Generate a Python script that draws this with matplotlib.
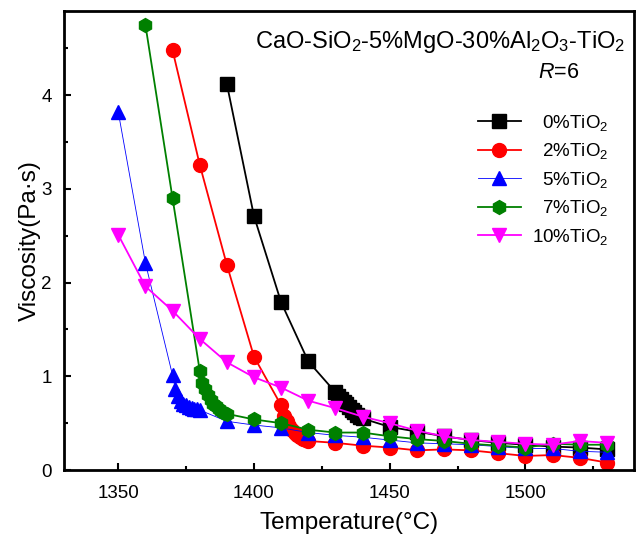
import numpy as np
import matplotlib.pyplot as plt
from matplotlib.ticker import MultipleLocator

plt.rcParams['font.family'] = ['Liberation Sans', 'DejaVu Sans']
plt.rcParams['mathtext.fontset'] = 'custom'
plt.rcParams['mathtext.rm'] = 'Liberation Sans'
plt.rcParams['mathtext.it'] = 'Liberation Sans:italic'

# 温度和粘度数据
t0 = [1390, 1400, 1410, 1420, 1430, 1431, 1432, 1433, 1434, 1435, 1436, 1437, 1438, 1439, 1440,
      1450, 1460, 1470, 1480, 1490, 1500, 1510, 1520, 1530]
v0 = [4.12, 2.71, 1.79, 1.16, 0.83, 0.79, 0.76, 0.73, 0.70, 0.67, 0.64, 0.62, 0.59, 0.57, 0.55,
      0.46, 0.41, 0.36, 0.32, 0.29, 0.27, 0.25, 0.24, 0.22]

t2 = [1370, 1380, 1390, 1400, 1410, 1411, 1412, 1413, 1414, 1415, 1416, 1417, 1418, 1419, 1420,
      1430, 1440, 1450, 1460, 1470, 1480, 1490, 1500, 1510, 1520, 1530]
v2 = [4.48, 3.26, 2.19, 1.21, 0.69, 0.58, 0.52, 0.47, 0.43, 0.40, 0.37, 0.35, 0.33, 0.32, 0.31,
      0.29, 0.26, 0.24, 0.21, 0.22, 0.21, 0.18, 0.15, 0.16, 0.13, 0.08]

t5 = [1350, 1360, 1370, 1371, 1372, 1373, 1374, 1375, 1376, 1377, 1378, 1379, 1380,
      1390, 1400, 1410, 1420, 1430, 1440, 1450, 1460, 1470, 1480, 1490, 1500, 1510, 1520, 1530]
v5 = [3.82, 2.21, 1.01, 0.87, 0.79, 0.74, 0.71, 0.69, 0.67, 0.66, 0.65, 0.65, 0.64,
      0.52, 0.48, 0.45, 0.40, 0.37, 0.35, 0.32, 0.29, 0.28, 0.27, 0.25, 0.23, 0.23, 0.20, 0.19]

t7 = [1360, 1370, 1380, 1381, 1382, 1383, 1384, 1385, 1386, 1387, 1388, 1389, 1390,
      1400, 1410, 1420, 1430, 1440, 1450, 1460, 1470, 1480, 1490, 1500, 1510, 1520, 1530]
v7 = [4.75, 2.90, 1.06, 0.93, 0.86, 0.80, 0.75, 0.71, 0.68, 0.65, 0.63, 0.61, 0.60,
      0.54, 0.50, 0.43, 0.40, 0.40, 0.36, 0.33, 0.31, 0.28, 0.26, 0.24, 0.28, 0.27, 0.27]

t10 = [1350, 1360, 1370, 1380, 1390, 1400, 1410, 1420, 1430, 1440, 1450, 1460, 1470, 1480,
       1490, 1500, 1510, 1520, 1530]
v10 = [2.51, 1.96, 1.70, 1.40, 1.15, 0.99, 0.88, 0.74, 0.66, 0.57, 0.50, 0.42, 0.36, 0.32,
       0.30, 0.28, 0.27, 0.31, 0.29]

# 图例文字右对齐，用数字空格补齐
labels = ['\u20070%TiO$_2$', '\u20072%TiO$_2$', '\u20075%TiO$_2$', '\u20077%TiO$_2$', '10%TiO$_2$']

fig = plt.figure(figsize=(6.42, 5.41), dpi=100)
ax = fig.add_axes([0.0997, 0.1312, 0.8878, 0.8485])

ax.plot(t0, v0, color='black', marker='s', ms=9.5, lw=1.3, label=labels[0])
ax.plot(t2, v2, color='red', marker='o', ms=10, lw=1.3, label=labels[1])
ax.plot(t5, v5, color='blue', marker='^', ms=10.5, lw=0.6, label=labels[2])
ax.plot(t7, v7, color='green', marker='h', ms=10, lw=1.3, label=labels[3])
ax.plot(t10, v10, color='magenta', marker='v', ms=10.5, lw=1.3, label=labels[4])

ax.set_xlim(1330, 1540)
ax.set_ylim(0, 4.9)
ax.xaxis.set_major_locator(MultipleLocator(50))
ax.xaxis.set_minor_locator(MultipleLocator(25))
ax.yaxis.set_major_locator(MultipleLocator(1))
ax.yaxis.set_minor_locator(MultipleLocator(0.5))
ax.tick_params(which='both', direction='in', width=1.5, labelsize=13.5)
ax.tick_params(which='major', length=5)
ax.tick_params(which='minor', length=3)
ax.tick_params(axis='x', which='major', pad=11)
ax.tick_params(axis='y', which='major', pad=9)
for s in ax.spines.values():
    s.set_linewidth(2)

ax.set_xlabel('Temperature(°C)', fontsize=17.5, labelpad=7)
ax.set_ylabel('Viscosity(Pa·s)', fontsize=17.5, labelpad=0)

ax.text(0.984, 0.932, 'CaO-SiO$_2$-5%MgO-30%Al$_2$O$_3$-TiO$_2$', transform=ax.transAxes,
        ha='right', va='center', fontsize=17)
ax.text(0.868, 0.866, '$R$=6', transform=ax.transAxes, ha='center', va='center', fontsize=15.5)

ax.legend(loc='upper right', bbox_to_anchor=(0.985, 0.815), frameon=False, fontsize=13.5,
          handlelength=2.3, labelspacing=0.45, handletextpad=0.6)

fig.savefig('out.png', dpi=100)
